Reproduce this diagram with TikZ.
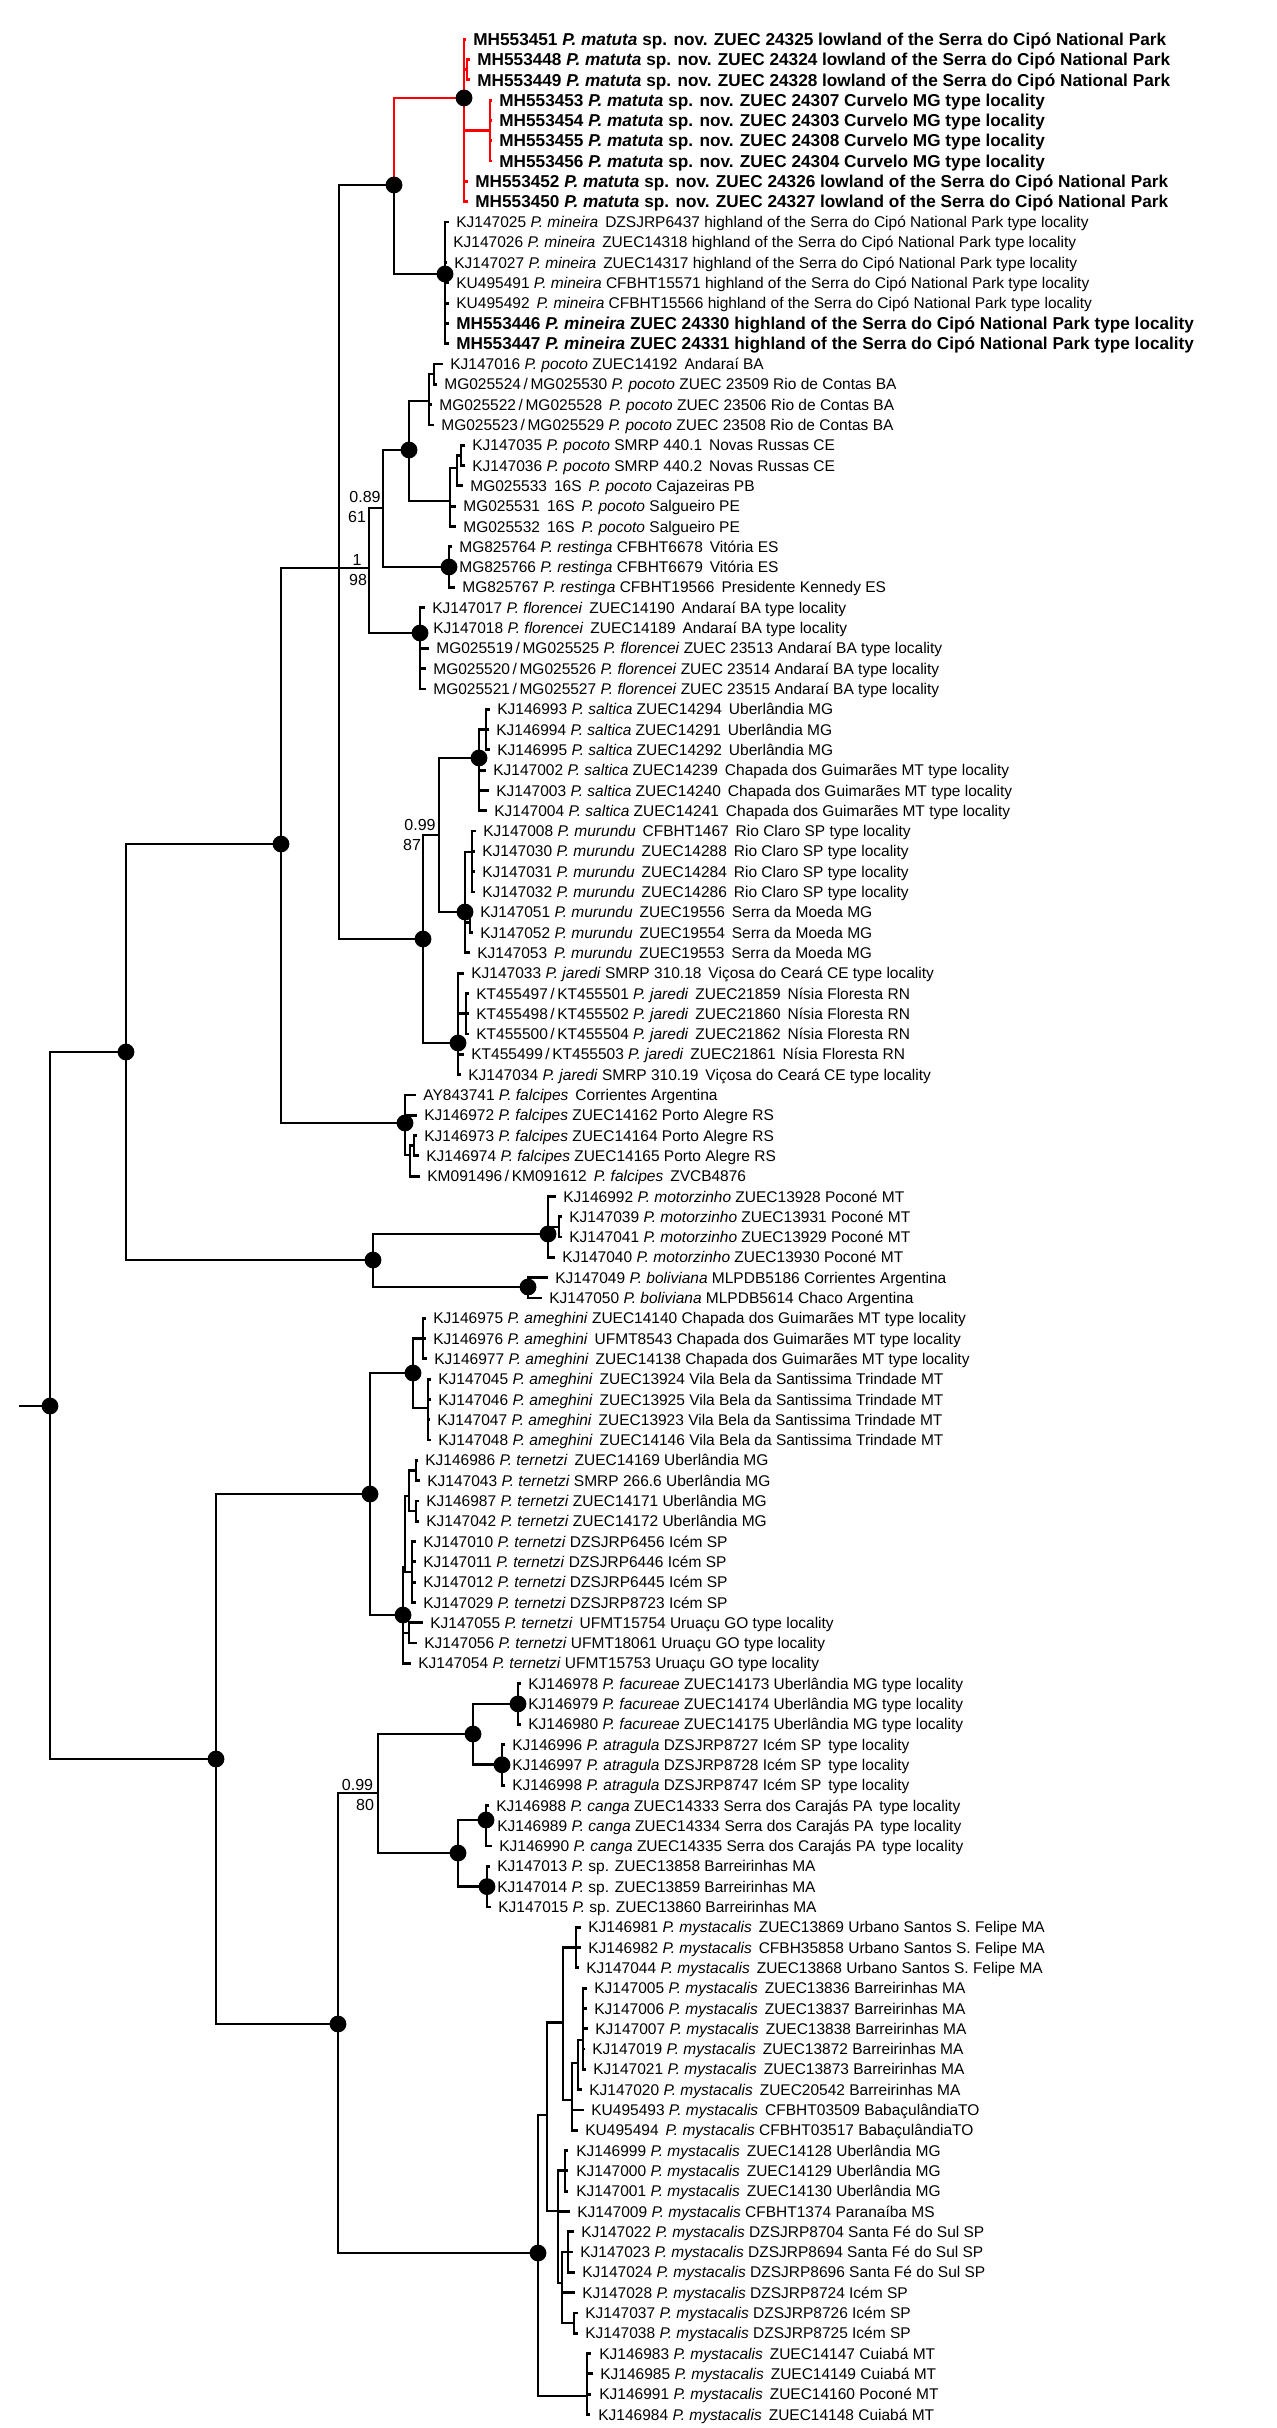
\documentclass[tikz,border=0pt]{standalone}
\usepackage{fontspec}
\setmainfont{Liberation Sans}
\newcommand{\dsp}{\hspace{0.45em}}
\newcommand{\leafn}[5]{%
  \coordinate (#1) at (#3,{39.3+(#2-1)*20.3});
  \node[lab] (#1t) at (#4,{39.3+(#2-1)*20.3+5.6}) {#5};}
\newcommand{\leafb}[5]{%
  \coordinate (#1) at (#3,{39.3+(#2-1)*20.3});
  \node[labb] (#1t) at (#4,{39.3+(#2-1)*20.3+6.2}) {#5};}
\newcommand{\kids}[3][black]{\foreach \c in {#3} {\draw[brn,#1] (#2) |- (\c);}}
\begin{document}
\begin{tikzpicture}[x=0.5pt,y=-0.5pt,
  brn/.style={line width=1.4pt,line join=miter},
  lab/.style={anchor=base west,inner sep=0pt,font=\fontsize{7.75}{9.3}\selectfont},
  labb/.style={anchor=base west,inner sep=0pt,font=\fontsize{8.6}{10.3}\selectfont\bfseries},
  suplab/.style={anchor=center,inner sep=0pt,font=\fontsize{8}{9.6}\selectfont}]
\fill[white] (0,0) rectangle (1276,2428);
\useasboundingbox (0,0) rectangle (1276,2428);
% ---------- internal nodes
\coordinate (R0) at (19,1406);
\coordinate (R) at (50,1406);
\coordinate (B2) at (126,1052);
\coordinate (B3) at (281,844);
\coordinate (P) at (339,568);
\coordinate (A) at (394,185);
\coordinate (M) at (464,98);
\coordinate (M23) at (467,69.75);
\coordinate (Cv) at (490,130.6);
\coordinate (Mi) at (445,274);
\coordinate (Q) at (369,568);
\coordinate (Q2) at (383,508);
\coordinate (Po) at (409,450);
\coordinate (RC) at (429,401);
\coordinate (RC1) at (434,374);
\coordinate (NE) at (450,501);
\coordinate (N1) at (457,468);
\coordinate (N2) at (461,455.5);
\coordinate (Re) at (449,567);
\coordinate (Fl) at (420,633);
\coordinate (SMJ) at (423,939);
\coordinate (SM) at (439,835);
\coordinate (Sa) at (479,758);
\coordinate (Sa1) at (486,729.5);
\coordinate (Mu) at (465,912);
\coordinate (Mu1) at (472,852);
\coordinate (Mu2) at (470,922.4);
\coordinate (J) at (458,1043);
\coordinate (J1) at (466,1013.7);
\coordinate (F) at (405,1123);
\coordinate (F1) at (410,1155);
\coordinate (F2) at (414,1145.6);
\coordinate (MB) at (373,1260);
\coordinate (Mo) at (548,1234);
\coordinate (Mo1) at (559,1226.9);
\coordinate (Bo) at (528,1287);
\coordinate (C) at (216,1759);
\coordinate (AT) at (370,1494);
\coordinate (Am) at (413,1373);
\coordinate (Am1) at (423,1338.5);
\coordinate (Am2) at (428,1408);
\coordinate (Te) at (403,1615);
\coordinate (T1) at (405,1567);
\coordinate (T3) at (409,1496);
\coordinate (T5) at (416,1470.5);
\coordinate (T6) at (416,1511);
\coordinate (T4) at (412,1572);
\coordinate (T2) at (409,1633);
\coordinate (FC) at (338,2024);
\coordinate (FS) at (378,1793);
\coordinate (FA) at (473,1734);
\coordinate (Fa) at (518,1703.9);
\coordinate (At) at (502,1764.8);
\coordinate (CS) at (458,1853);
\coordinate (Ca) at (486,1820);
\coordinate (Sp) at (487,1886.6);
\coordinate (My) at (538,2253);
\coordinate (My1) at (547,2115);
\coordinate (NN) at (563,2022.7);
\coordinate (NA) at (576,1947.5);
\coordinate (NB) at (572,2100);
\coordinate (NC) at (578,2063);
\coordinate (ND) at (583,2040);
\coordinate (SS) at (558,2211);
\coordinate (S1) at (565,2170.8);
\coordinate (S2) at (562,2283);
\coordinate (S3) at (568,2252);
\coordinate (S4) at (574,2323);
\coordinate (Cu) at (587,2396);
% ---------- leaves
\leafb{t1}{1}{466}{473}{MH553451 \textit{P. matuta} sp. nov. ZUEC 24325 lowland of the Serra do Cipó National Park}
\leafb{t2}{2}{470}{477}{MH553448 \textit{P. matuta} sp. nov. ZUEC 24324 lowland of the Serra do Cipó National Park}
\leafb{t3}{3}{470}{477}{MH553449 \textit{P. matuta} sp. nov. ZUEC 24328 lowland of the Serra do Cipó National Park}
\leafb{t4}{4}{492}{499}{MH553453 \textit{P. matuta} sp. nov. ZUEC 24307 Curvelo MG type locality}
\leafb{t5}{5}{492}{499}{MH553454 \textit{P. matuta} sp. nov. ZUEC 24303 Curvelo MG type locality}
\leafb{t6}{6}{492}{499}{MH553455 \textit{P. matuta} sp. nov. ZUEC 24308 Curvelo MG type locality}
\leafb{t7}{7}{492}{499}{MH553456 \textit{P. matuta} sp. nov. ZUEC 24304 Curvelo MG type locality}
\leafb{t8}{8}{468}{475}{MH553452 \textit{P. matuta} sp. nov. ZUEC 24326 lowland of the Serra do Cipó National Park}
\leafb{t9}{9}{468}{475}{MH553450 \textit{P. matuta} sp. nov. ZUEC 24327 lowland of the Serra do Cipó National Park}
\leafn{t10}{10}{449}{456}{KJ147025 \textit{P. mineira}\dsp DZSJRP6437 highland of the Serra do Cipó National Park type locality}
\leafn{t11}{11}{446}{453}{KJ147026 \textit{P. mineira}\dsp ZUEC14318 highland of the Serra do Cipó National Park type locality}
\leafn{t12}{12}{447}{454}{KJ147027 \textit{P. mineira}\dsp ZUEC14317 highland of the Serra do Cipó National Park type locality}
\leafn{t13}{13}{449}{456}{KU495491 \textit{P. mineira} CFBHT15571 highland of the Serra do Cipó National Park type locality}
\leafn{t14}{14}{449}{456}{KU495492\dsp\textit{P. mineira} CFBHT15566 highland of the Serra do Cipó National Park type locality}
\leafb{t15}{15}{449}{456}{MH553446 \textit{P. mineira} ZUEC 24330 highland of the Serra do Cipó National Park type locality}
\leafb{t16}{16}{449}{456}{MH553447 \textit{P. mineira} ZUEC 24331 highland of the Serra do Cipó National Park type locality}
\leafn{t17}{17}{443}{450}{KJ147016 \textit{P. pocoto} ZUEC14192\dsp Andaraí BA}
\leafn{t18}{18}{437}{444}{MG025524\,/\,MG025530 \textit{P. pocoto} ZUEC 23509 Rio de Contas BA}
\leafn{t19}{19}{432}{439}{MG025522\,/\,MG025528\dsp\textit{P. pocoto} ZUEC 23506 Rio de Contas BA}
\leafn{t20}{20}{434}{441}{MG025523\,/\,MG025529 \textit{P. pocoto} ZUEC 23508 Rio de Contas BA}
\leafn{t21}{21}{465}{472}{KJ147035 \textit{P. pocoto} SMRP 440.1\dsp Novas Russas CE}
\leafn{t22}{22}{465}{472}{KJ147036 \textit{P. pocoto} SMRP 440.2\dsp Novas Russas CE}
\leafn{t23}{23}{463}{470}{MG025533\dsp 16S\dsp\textit{P. pocoto} Cajazeiras PB}
\leafn{t24}{24}{456}{463}{MG025531\dsp 16S\dsp\textit{P. pocoto} Salgueiro PE}
\leafn{t25}{25}{456}{463}{MG025532\dsp 16S\dsp\textit{P. pocoto} Salgueiro PE}
\leafn{t26}{26}{452}{459}{MG825764 \textit{P. restinga} CFBHT6678\dsp Vitória ES}
\leafn{t27}{27}{452}{459}{MG825766 \textit{P. restinga} CFBHT6679\dsp Vitória ES}
\leafn{t28}{28}{455}{462}{MG825767 \textit{P. restinga} CFBHT19566\dsp Presidente Kennedy ES}
\leafn{t29}{29}{425}{432}{KJ147017 \textit{P. florencei}\dsp ZUEC14190\dsp Andaraí BA type locality}
\leafn{t30}{30}{426}{433}{KJ147018 \textit{P. florencei}\dsp ZUEC14189\dsp Andaraí BA type locality}
\leafn{t31}{31}{429}{436}{MG025519\,/\,MG025525 \textit{P. florencei} ZUEC 23513 Andaraí BA type locality}
\leafn{t32}{32}{426}{433}{MG025520\,/\,MG025526 \textit{P. florencei} ZUEC 23514 Andaraí BA type locality}
\leafn{t33}{33}{426}{433}{MG025521\,/\,MG025527 \textit{P. florencei} ZUEC 23515 Andaraí BA type locality}
\leafn{t34}{34}{490}{497}{KJ146993 \textit{P. saltica} ZUEC14294\dsp Uberlândia MG}
\leafn{t35}{35}{489}{496}{KJ146994 \textit{P. saltica} ZUEC14291\dsp Uberlândia MG}
\leafn{t36}{36}{490}{497}{KJ146995 \textit{P. saltica} ZUEC14292\dsp Uberlândia MG}
\leafn{t37}{37}{486}{493}{KJ147002 \textit{P. saltica} ZUEC14239\dsp Chapada dos Guimarães MT type locality}
\leafn{t38}{38}{489}{496}{KJ147003 \textit{P. saltica} ZUEC14240\dsp Chapada dos Guimarães MT type locality}
\leafn{t39}{39}{487}{494}{KJ147004 \textit{P. saltica} ZUEC14241\dsp Chapada dos Guimarães MT type locality}
\leafn{t40}{40}{476}{483}{KJ147008 \textit{P. murundu}\dsp CFBHT1467\dsp Rio Claro SP type locality}
\leafn{t41}{41}{475}{482}{KJ147030 \textit{P. murundu}\dsp ZUEC14288\dsp Rio Claro SP type locality}
\leafn{t42}{42}{475}{482}{KJ147031 \textit{P. murundu}\dsp ZUEC14284\dsp Rio Claro SP type locality}
\leafn{t43}{43}{475}{482}{KJ147032 \textit{P. murundu}\dsp ZUEC14286\dsp Rio Claro SP type locality}
\leafn{t44}{44}{473}{480}{KJ147051 \textit{P. murundu}\dsp ZUEC19556\dsp Serra da Moeda MG}
\leafn{t45}{45}{473}{480}{KJ147052 \textit{P. murundu}\dsp ZUEC19554\dsp Serra da Moeda MG}
\leafn{t46}{46}{470}{477}{KJ147053\dsp\textit{P. murundu}\dsp ZUEC19553\dsp Serra da Moeda MG}
\leafn{t47}{47}{464}{471}{KJ147033 \textit{P. jaredi} SMRP 310.18\dsp Viçosa do Ceará CE type locality}
\leafn{t48}{48}{469}{476}{KT455497\,/\,KT455501 \textit{P. jaredi}\dsp ZUEC21859\dsp Nísia Floresta RN}
\leafn{t49}{49}{469}{476}{KT455498\,/\,KT455502 \textit{P. jaredi}\dsp ZUEC21860\dsp Nísia Floresta RN}
\leafn{t50}{50}{469}{476}{KT455500\,/\,KT455504 \textit{P. jaredi}\dsp ZUEC21862\dsp Nísia Floresta RN}
\leafn{t51}{51}{464}{471}{KT455499\,/\,KT455503 \textit{P. jaredi}\dsp ZUEC21861\dsp Nísia Floresta RN}
\leafn{t52}{52}{461}{468}{KJ147034 \textit{P. jaredi} SMRP 310.19\dsp Viçosa do Ceará CE type locality}
\leafn{t53}{53}{416}{423}{AY843741 \textit{P. falcipes}\dsp Corrientes Argentina}
\leafn{t54}{54}{417}{424}{KJ146972 \textit{P. falcipes} ZUEC14162 Porto Alegre RS}
\leafn{t55}{55}{417}{424}{KJ146973 \textit{P. falcipes} ZUEC14164 Porto Alegre RS}
\leafn{t56}{56}{419}{426}{KJ146974 \textit{P. falcipes} ZUEC14165 Porto Alegre RS}
\leafn{t57}{57}{420}{427}{KM091496\,/\,KM091612\dsp\textit{P. falcipes}\dsp ZVCB4876}
\leafn{t58}{58}{556}{563}{KJ146992 \textit{P. motorzinho} ZUEC13928 Poconé MT}
\leafn{t59}{59}{562}{569}{KJ147039 \textit{P. motorzinho} ZUEC13931 Poconé MT}
\leafn{t60}{60}{562}{569}{KJ147041 \textit{P. motorzinho} ZUEC13929 Poconé MT}
\leafn{t61}{61}{555}{562}{KJ147040 \textit{P. motorzinho} ZUEC13930 Poconé MT}
\leafn{t62}{62}{548}{555}{KJ147049 \textit{P. boliviana} MLPDB5186 Corrientes Argentina}
\leafn{t63}{63}{542}{549}{KJ147050 \textit{P. boliviana} MLPDB5614 Chaco Argentina}
\leafn{t64}{64}{426}{433}{KJ146975 \textit{P. ameghini} ZUEC14140 Chapada dos Guimarães MT type locality}
\leafn{t65}{65}{426}{433}{KJ146976 \textit{P. ameghini}\dsp UFMT8543 Chapada dos Guimarães MT type locality}
\leafn{t66}{66}{427}{434}{KJ146977 \textit{P. ameghini}\dsp ZUEC14138 Chapada dos Guimarães MT type locality}
\leafn{t67}{67}{431}{438}{KJ147045 \textit{P. ameghini}\dsp ZUEC13924 Vila Bela da Santissima Trindade MT}
\leafn{t68}{68}{431}{438}{KJ147046 \textit{P. ameghini}\dsp ZUEC13925 Vila Bela da Santissima Trindade MT}
\leafn{t69}{69}{430}{437}{KJ147047 \textit{P. ameghini}\dsp ZUEC13923 Vila Bela da Santissima Trindade MT}
\leafn{t70}{70}{431}{438}{KJ147048 \textit{P. ameghini}\dsp ZUEC14146 Vila Bela da Santissima Trindade MT}
\leafn{t71}{71}{418}{425}{KJ146986 \textit{P. ternetzi}\dsp ZUEC14169 Uberlândia MG}
\leafn{t72}{72}{420}{427}{KJ147043 \textit{P. ternetzi} SMRP 266.6 Uberlândia MG}
\leafn{t73}{73}{419}{426}{KJ146987 \textit{P. ternetzi} ZUEC14171 Uberlândia MG}
\leafn{t74}{74}{419}{426}{KJ147042 \textit{P. ternetzi} ZUEC14172 Uberlândia MG}
\leafn{t75}{75}{416}{423}{KJ147010 \textit{P. ternetzi} DZSJRP6456 Icém SP}
\leafn{t76}{76}{416}{423}{KJ147011 \textit{P. ternetzi} DZSJRP6446 Icém SP}
\leafn{t77}{77}{416}{423}{KJ147012 \textit{P. ternetzi} DZSJRP6445 Icém SP}
\leafn{t78}{78}{416}{423}{KJ147029 \textit{P. ternetzi} DZSJRP8723 Icém SP}
\leafn{t79}{79}{423}{430}{KJ147055 \textit{P. ternetzi}\dsp UFMT15754 Uruaçu GO type locality}
\leafn{t80}{80}{417}{424}{KJ147056 \textit{P. ternetzi} UFMT18061 Uruaçu GO type locality}
\leafn{t81}{81}{411}{418}{KJ147054 \textit{P. ternetzi} UFMT15753 Uruaçu GO type locality}
\leafn{t82}{82}{521}{528}{KJ146978 \textit{P. facureae} ZUEC14173 Uberlândia MG type locality}
\leafn{t83}{83}{521}{528}{KJ146979 \textit{P. facureae} ZUEC14174 Uberlândia MG type locality}
\leafn{t84}{84}{521}{528}{KJ146980 \textit{P. facureae} ZUEC14175 Uberlândia MG type locality}
\leafn{t85}{85}{505}{512}{KJ146996 \textit{P. atragula} DZSJRP8727 Icém SP\dsp type locality}
\leafn{t86}{86}{505}{512}{KJ146997 \textit{P. atragula} DZSJRP8728 Icém SP\dsp type locality}
\leafn{t87}{87}{505}{512}{KJ146998 \textit{P. atragula} DZSJRP8747 Icém SP\dsp type locality}
\leafn{t88}{88}{489}{496}{KJ146988 \textit{P. canga} ZUEC14333 Serra dos Carajás PA\dsp type locality}
\leafn{t89}{89}{490}{497}{KJ146989 \textit{P. canga} ZUEC14334 Serra dos Carajás PA\dsp type locality}
\leafn{t90}{90}{492}{499}{KJ146990 \textit{P. canga} ZUEC14335 Serra dos Carajás PA\dsp type locality}
\leafn{t91}{91}{490}{497}{KJ147013 \textit{P.} sp. ZUEC13858 Barreirinhas MA}
\leafn{t92}{92}{490}{497}{KJ147014 \textit{P.} sp. ZUEC13859 Barreirinhas MA}
\leafn{t93}{93}{491}{498}{KJ147015 \textit{P.} sp. ZUEC13860 Barreirinhas MA}
\leafn{t94}{94}{581}{588}{KJ146981 \textit{P. mystacalis}\dsp ZUEC13869 Urbano Santos S. Felipe MA}
\leafn{t95}{95}{581}{588}{KJ146982 \textit{P. mystacalis}\dsp CFBH35858 Urbano Santos S. Felipe MA}
\leafn{t96}{96}{579}{586}{KJ147044 \textit{P. mystacalis}\dsp ZUEC13868 Urbano Santos S. Felipe MA}
\leafn{t97}{97}{587}{594}{KJ147005 \textit{P. mystacalis}\dsp ZUEC13836 Barreirinhas MA}
\leafn{t98}{98}{587}{594}{KJ147006 \textit{P. mystacalis}\dsp ZUEC13837 Barreirinhas MA}
\leafn{t99}{99}{588}{595}{KJ147007 \textit{P. mystacalis}\dsp ZUEC13838 Barreirinhas MA}
\leafn{t100}{100}{585}{592}{KJ147019 \textit{P. mystacalis}\dsp ZUEC13872 Barreirinhas MA}
\leafn{t101}{101}{586}{593}{KJ147021 \textit{P. mystacalis}\dsp ZUEC13873 Barreirinhas MA}
\leafn{t102}{102}{582}{589}{KJ147020 \textit{P. mystacalis}\dsp ZUEC20542 Barreirinhas MA}
\leafn{t103}{103}{584}{591}{KU495493 \textit{P. mystacalis}\dsp CFBHT03509 BabaçulândiaTO}
\leafn{t104}{104}{578}{585}{KU495494\dsp\textit{P. mystacalis} CFBHT03517 BabaçulândiaTO}
\leafn{t105}{105}{568}{576}{KJ146999 \textit{P. mystacalis}\dsp ZUEC14128 Uberlândia MG}
\leafn{t106}{106}{568}{576}{KJ147000 \textit{P. mystacalis}\dsp ZUEC14129 Uberlândia MG}
\leafn{t107}{107}{568}{576}{KJ147001 \textit{P. mystacalis}\dsp ZUEC14130 Uberlândia MG}
\leafn{t108}{108}{570}{577}{KJ147009 \textit{P. mystacalis} CFBHT1374 Paranaíba MS}
\leafn{t109}{109}{574}{581}{KJ147022 \textit{P. mystacalis} DZSJRP8704 Santa Fé do Sul SP}
\leafn{t110}{110}{573}{580}{KJ147023 \textit{P. mystacalis} DZSJRP8694 Santa Fé do Sul SP}
\leafn{t111}{111}{575}{582}{KJ147024 \textit{P. mystacalis} DZSJRP8696 Santa Fé do Sul SP}
\leafn{t112}{112}{575}{582}{KJ147028 \textit{P. mystacalis} DZSJRP8724 Icém SP}
\leafn{t113}{113}{578}{585}{KJ147037 \textit{P. mystacalis} DZSJRP8726 Icém SP}
\leafn{t114}{114}{578}{585}{KJ147038 \textit{P. mystacalis} DZSJRP8725 Icém SP}
\leafn{t115}{115}{591}{599}{KJ146983 \textit{P. mystacalis}\dsp ZUEC14147 Cuiabá MT}
\leafn{t116}{116}{593}{600}{KJ146985 \textit{P. mystacalis}\dsp ZUEC14149 Cuiabá MT}
\leafn{t117}{117}{591}{599}{KJ146991 \textit{P. mystacalis}\dsp ZUEC14160 Poconé MT}
\leafn{t118}{118}{590}{598}{KJ146984 \textit{P. mystacalis}\dsp ZUEC14148 Cuiabá MT}
% ---------- branches
\draw[brn] (R0) -- (R);
\kids{R}{B2,C}
\kids{B2}{B3,MB}
\kids{B3}{P,F}
\kids{P}{A,Q,SMJ}
\kids[red]{A}{M}
\kids{A}{Mi}
\kids[red]{M}{t1,M23,Cv,t8,t9}
\kids[red]{M23}{t2,t3}
\kids[red]{Cv}{t4,t5,t6,t7}
\kids{Mi}{t10,t11,t12,t13,t14,t15,t16}
\kids{Q}{Q2,Fl}
\kids{Q2}{Po,Re}
\kids{Po}{RC,NE}
\kids{RC}{RC1,t19,t20}
\kids{RC1}{t17,t18}
\kids{NE}{N1,t24,t25}
\kids{N1}{N2,t23}
\kids{N2}{t21,t22}
\kids{Re}{t26,t27,t28}
\kids{Fl}{t29,t30,t31,t32,t33}
\kids{SMJ}{SM,J}
\kids{SM}{Sa,Mu}
\kids{Sa}{Sa1,t37,t38,t39}
\kids{Sa1}{t34,t35,t36}
\kids{Mu}{Mu1,Mu2,t46}
\kids{Mu1}{t40,t41,t42,t43}
\kids{Mu2}{t44,t45}
\kids{J}{t47,J1,t51,t52}
\kids{J1}{t48,t49,t50}
\kids{F}{t53,t54,F1}
\kids{F1}{F2,t57}
\kids{F2}{t55,t56}
\kids{MB}{Mo,Bo}
\kids{Mo}{t58,Mo1,t61}
\kids{Mo1}{t59,t60}
\kids{Bo}{t62,t63}
\kids{C}{AT,FC}
\kids{AT}{Am,Te}
\kids{Am}{Am1,Am2}
\kids{Am1}{t64,t65,t66}
\kids{Am2}{t67,t68,t69,t70}
\kids{Te}{T1,T2,t81}
\kids{T1}{T3,T4}
\kids{T3}{T5,T6}
\kids{T5}{t71,t72}
\kids{T6}{t73,t74}
\kids{T4}{t75,t76,t77,t78}
\kids{T2}{t79,t80}
\kids{FC}{FS,My}
\kids{FS}{FA,CS}
\kids{FA}{Fa,At}
\kids{Fa}{t82,t83,t84}
\kids{At}{t85,t86,t87}
\kids{CS}{Ca,Sp}
\kids{Ca}{t88,t89,t90}
\kids{Sp}{t91,t92,t93}
\kids{My}{My1,Cu}
\kids{My1}{NN,SS}
\kids{NN}{NA,NB}
\kids{NA}{t94,t95,t96}
\kids{NB}{NC,t103,t104}
\kids{NC}{ND,t102}
\kids{ND}{t97,t98,t99,t100,t101}
\kids{SS}{S1,t108,S2}
\kids{S1}{t105,t106,t107}
\kids{S2}{S3,t112,S4}
\kids{S3}{t109,t110,t111}
\kids{S4}{t113,t114}
\kids{Cu}{t115,t116,t117,t118}
% ---------- support dots
\foreach \n in {R,B2,B3,F,A,M,Mi,Po,Re,Fl,SMJ,Sa,Mu,J,MB,Mo,Bo,C,AT,Am,Te,FC,FA,Fa,At,CS,Ca,Sp,My}
  {\fill (\n) circle (4.2pt);}
% ---------- support values
\node[suplab] (s1) at (357,560) {1};
\node[suplab] (s98) at (358,580) {98};
\node[suplab] (s089) at (365,497) {0.89};
\node[suplab] (s61) at (357,517) {61};
\node[suplab] (s099a) at (420,825) {0.99};
\node[suplab] (s87) at (412,845) {87};
\node[suplab] (s099b) at (357.5,1785) {0.99};
\node[suplab] (s80) at (365,1805) {80};
\end{tikzpicture}
\end{document}
